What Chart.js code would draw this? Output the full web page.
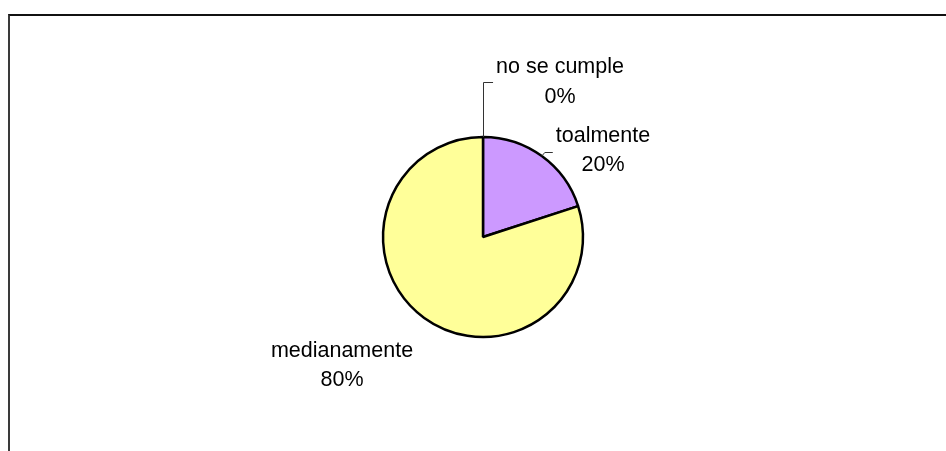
<!DOCTYPE html>
<html>
<head>
<meta charset="utf-8">
<title>Cumplimiento</title>
<script src="https://cdn.jsdelivr.net/npm/chart.js@4/dist/chart.umd.min.js"></script>
<style>
  html, body { margin: 0; padding: 0; background: #fff; }
  #wrap { position: relative; width: 946px; height: 451px; overflow: hidden; }
  #frame {
    position: absolute; left: 8px; top: 14px; width: 960px; height: 460px;
    border-top: 2px solid #111; border-left: 2px solid #3a3a3a;
    box-sizing: border-box; pointer-events: none;
  }
  #myChart { position: absolute; left: 0; top: 0; }
</style>
</head>
<body>
<div id="wrap">
  <canvas id="myChart" width="946" height="451"></canvas>
  <div id="frame"></div>
</div>
<script>
// Slices, in drawing order (clockwise from 12 o'clock)
const categories = ['toalmente', 'medianamente', 'no se cumple'];
const values = [20, 80, 0];
const sliceColors = ['#CC99FF', '#FFFF99', '#993366'];

(() => {
  const canvas = document.getElementById('myChart');
  if (!canvas) return;

  // Category name + percentage outside each slice, with an elbow leader where the label sits away
  const pieLabels = {
    id: 'pieLabels',
    afterDatasetsDraw(chart, args, opts) {
      const { ctx } = chart;
      const meta = chart.getDatasetMeta(0);
      const total = values.reduce((a, b) => a + b, 0);
      ctx.save();
      ctx.font = opts.font;
      ctx.fillStyle = '#000';
      ctx.textAlign = 'center';
      ctx.textBaseline = 'alphabetic';

      meta.data.forEach((arc, i) => {
        const place = opts.places[i];
        if (!place) return;
        const { x, y, startAngle, endAngle, outerRadius } = arc.getProps(['x', 'y', 'startAngle', 'endAngle', 'outerRadius'], true);
        const cx = x + place.dx;
        const by = y + place.dy;
        const name = categories[i];
        const pct = Math.round(values[i] / total * 100) + '%';

        const nameW = ctx.measureText(name).width;
        ctx.fillText(name, cx, by);
        ctx.fillText(pct, cx, by + opts.lineHeight);

        if (place.leader) {
          const mid = (startAngle + endAngle) / 2;
          const sx = x + Math.cos(mid) * outerRadius;
          const sy = y + Math.sin(mid) * outerRadius;
          const ex = cx - nameW / 2 - 3;
          const ey = by + place.leaderY;
          // zero-width slices get a straight vertical run, others a short diagonal
          const kx = place.vertical ? Math.round(sx) + 0.5 : ex - 8;
          ctx.strokeStyle = '#333';
          ctx.lineWidth = 1;
          ctx.beginPath();
          ctx.moveTo(place.vertical ? kx : sx, sy);
          ctx.lineTo(kx, Math.round(ey) + 0.5);
          ctx.lineTo(ex, Math.round(ey) + 0.5);
          ctx.stroke();
        }
      });
      ctx.restore();
    }
  };

  new Chart(canvas, {
    type: 'pie',
    data: {
      labels: categories,
      datasets: [{
        data: values,
        backgroundColor: sliceColors,
        borderColor: '#000',
        borderWidth: 2.5
      }]
    },
    plugins: [pieLabels],
    options: {
      responsive: false,
      animation: false,
      radius: 100,
      layout: { padding: { left: 20, right: 0, top: 23, bottom: 0 } },
      plugins: {
        legend: { display: false },
        tooltip: { enabled: false },
        pieLabels: {
          font: '21.5px "Liberation Sans", Arial, sans-serif',
          lineHeight: 29.5,
          places: [
            { dx: 120, dy: -95.5, leader: true, leaderY: 10.5 },
            { dx: -141, dy: 119.5, leader: false },
            { dx: 77, dy: -164, leader: true, leaderY: 9, vertical: true }
          ]
        }
      }
    }
  });
})();
</script>
</body>
</html>
